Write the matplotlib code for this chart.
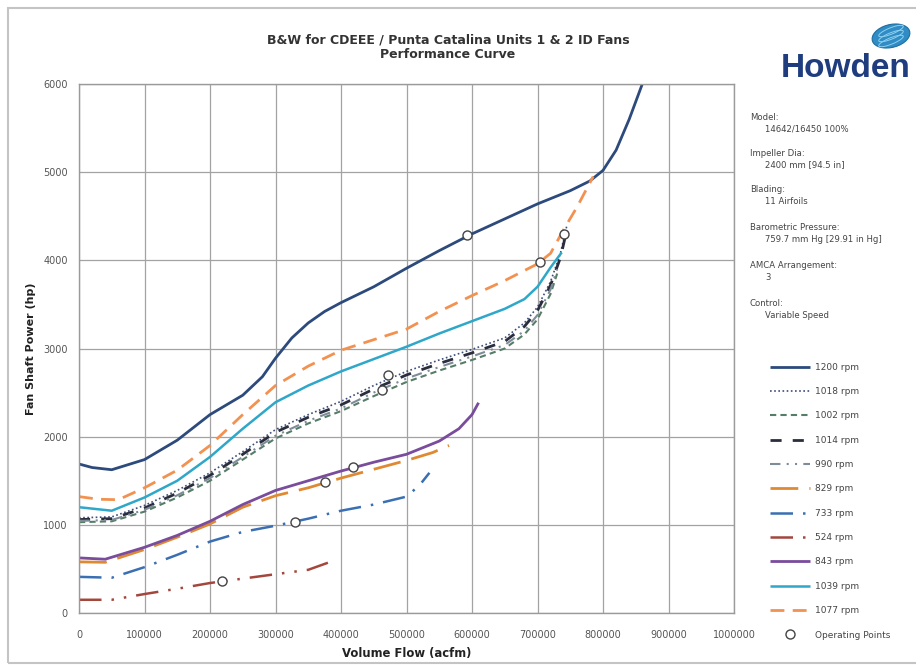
import matplotlib
matplotlib.use("Agg")
import matplotlib.pyplot as plt
from matplotlib.patches import Ellipse, Rectangle

# ---- performance data (flow in acfm, shaft power in hp) ----
flow_1200 = [0, 20000, 50000, 100000, 150000, 200000, 250000, 280000, 300000, 325000,
             350000, 375000, 400000, 425000, 450000, 500000, 550000, 600000, 650000,
             700000, 750000, 780000, 800000, 820000, 840000, 860000]
power_1200 = [1690, 1650, 1625, 1740, 1960, 2250, 2470, 2680, 2890, 3120,
              3290, 3420, 3520, 3610, 3700, 3910, 4110, 4300, 4470,
              4640, 4790, 4900, 5020, 5250, 5600, 6000]

flow_1018 = [0, 50000, 100000, 150000, 200000, 250000, 300000, 350000, 400000, 450000,
             500000, 550000, 600000, 650000, 680000, 700000, 720000, 735000, 745000]
power_1018 = [1080, 1090, 1220, 1390, 1590, 1830, 2080, 2250, 2400, 2580,
              2740, 2870, 2990, 3120, 3290, 3470, 3760, 4080, 4400]

flow_1002 = [0, 50000, 100000, 150000, 200000, 250000, 300000, 350000, 400000, 450000,
             500000, 550000, 600000, 650000, 680000, 700000, 720000, 730000]
power_1002 = [1030, 1040, 1150, 1310, 1500, 1740, 1980, 2150, 2290, 2460,
              2620, 2750, 2870, 3000, 3160, 3330, 3620, 3850]

flow_1014 = [0, 50000, 100000, 150000, 200000, 250000, 300000, 350000, 400000, 450000,
             500000, 550000, 600000, 650000, 680000, 700000, 720000, 735000, 745000]
power_1014 = [1060, 1070, 1190, 1360, 1560, 1800, 2050, 2220, 2360, 2540,
              2700, 2830, 2950, 3080, 3250, 3430, 3720, 4030, 4350]

flow_990 = [0, 50000, 100000, 150000, 200000, 250000, 300000, 350000, 400000, 450000,
            500000, 550000, 600000, 650000, 680000, 700000, 720000, 730000]
power_990 = [1045, 1055, 1170, 1335, 1530, 1770, 2010, 2180, 2320, 2500,
             2660, 2790, 2910, 3040, 3200, 3380, 3670, 3900]

flow_829 = [0, 40000, 100000, 150000, 200000, 250000, 300000, 350000, 400000, 450000,
            500000, 540000, 565000]
power_829 = [580, 575, 720, 860, 1010, 1200, 1330, 1420, 1530, 1630,
             1730, 1820, 1900]

flow_733 = [0, 50000, 100000, 150000, 200000, 250000, 300000, 350000, 400000, 450000,
            500000, 520000, 535000]
power_733 = [410, 400, 520, 660, 810, 920, 990, 1070, 1160, 1230,
             1320, 1450, 1590]

flow_524 = [0, 50000, 100000, 150000, 200000, 250000, 300000, 350000, 380000]
power_524 = [150, 150, 215, 275, 340, 390, 440, 490, 570]

flow_843 = [0, 40000, 100000, 150000, 200000, 250000, 300000, 350000, 400000, 450000,
            500000, 550000, 580000, 600000, 610000]
power_843 = [625, 610, 745, 880, 1040, 1230, 1390, 1500, 1610, 1710,
             1800, 1950, 2090, 2250, 2385]

flow_1039 = [0, 50000, 100000, 150000, 200000, 250000, 300000, 350000, 400000, 450000,
             500000, 550000, 600000, 650000, 680000, 700000, 720000, 737000]
power_1039 = [1200, 1160, 1310, 1500, 1770, 2090, 2390, 2580, 2740, 2880,
              3020, 3170, 3310, 3450, 3560, 3700, 3920, 4090]

flow_1077 = [0, 30000, 60000, 100000, 150000, 200000, 250000, 300000, 350000, 400000,
             450000, 500000, 550000, 600000, 650000, 700000, 720000, 740000, 760000, 785000]
power_1077 = [1320, 1290, 1285, 1420, 1620, 1900, 2250, 2580, 2800, 2980,
              3100, 3220, 3420, 3600, 3770, 3960, 4080, 4350, 4600, 4950]

op_flow = [218000, 330000, 375000, 418000, 462000, 472000, 592000, 704000, 740000]
op_power = [363, 1032, 1486, 1656, 2530, 2700, 4287, 3980, 4300]

x_ticks = [0, 100000, 200000, 300000, 400000, 500000, 600000, 700000, 800000, 900000, 1000000]
y_ticks = [0, 1000, 2000, 3000, 4000, 5000, 6000]

fig = plt.figure(figsize=(9.16, 6.71), dpi=100)
fig.patch.set_facecolor("white")

W, H = 916, 671
ax = fig.add_axes([79 / W, 1 - 613 / H, (734 - 79) / W, (613 - 84) / H])

series = [
    (flow_1200, power_1200, "1200 rpm", dict(color="#2d4a7c", lw=2.0, ls="-")),
    (flow_1018, power_1018, "1018 rpm", dict(color="#3c4d78", lw=1.2, ls=(0, (1, 1.5)))),
    (flow_1002, power_1002, "1002 rpm", dict(color="#557d68", lw=1.5, ls=(0, (3, 2)))),
    (flow_1014, power_1014, "1014 rpm", dict(color="#2a2d3d", lw=2.0, ls=(0, (4, 4)))),
    (flow_990, power_990, "990 rpm", dict(color="#7d8c98", lw=1.5, ls=(0, (5, 3, 1, 3, 1, 3)))),
    (flow_829, power_829, "829 rpm", dict(color="#df8a33", lw=2.0, ls=(0, (10, 4)))),
    (flow_733, power_733, "733 rpm", dict(color="#3b6fb3", lw=1.8, ls=(0, (9, 4, 1, 4)))),
    (flow_524, power_524, "524 rpm", dict(color="#a3473d", lw=1.8, ls=(0, (9, 4, 1, 4, 1, 4)))),
    (flow_843, power_843, "843 rpm", dict(color="#7a4c9c", lw=2.0, ls="-")),
    (flow_1039, power_1039, "1039 rpm", dict(color="#2ea7c9", lw=1.8, ls="-")),
    (flow_1077, power_1077, "1077 rpm", dict(color="#f39150", lw=2.0, ls=(0, (5, 3)))),
]

for fx, py, name, st in series:
    ax.plot(fx, py, label=name, color=st["color"], lw=st["lw"], linestyle=st["ls"],
            solid_capstyle="butt", dash_capstyle="butt", solid_joinstyle="round")

ax.plot(op_flow, op_power, ls="none", marker="o", ms=6.5, mfc="white",
        mec="#444444", mew=1.0, label="Operating Points", zorder=5)

ax.set_xlim(0, 1000000)
ax.set_ylim(0, 6000)
ax.set_xticks(x_ticks)
ax.set_yticks(y_ticks)
ax.set_xticklabels([str(v) for v in x_ticks])
ax.set_yticklabels([str(v) for v in y_ticks])
ax.tick_params(axis="both", labelsize=7, colors="#555555", length=0)
ax.tick_params(axis="x", pad=12)
ax.tick_params(axis="y", pad=8)
ax.grid(True, color="#a3a3a3", lw=0.9)
ax.set_axisbelow(True)
for side, sp in ax.spines.items():
    sp.set_color("#9a9a9a")
    sp.set_linewidth(1.0)

ax.set_xlabel("Volume Flow (acfm)", fontsize=8.4, fontweight="bold", color="#222222", labelpad=5)
ax.set_ylabel("Fan Shaft Power (hp)", fontsize=8, fontweight="bold", color="#222222", labelpad=5)

leg = ax.legend(loc="upper left", bbox_to_anchor=(1.05, 0.48), frameon=False,
                fontsize=6.5, handlelength=4.4, labelspacing=1.7, handletextpad=0.5,
                borderaxespad=0)
for t in leg.get_texts():
    t.set_color("#444444")

fig.text(448 / W, 1 - 40 / H, "B&W for CDEEE / Punta Catalina Units 1 & 2 ID Fans",
         ha="center", va="center", fontsize=9, fontweight="bold", color="#333333")
fig.text(448 / W, 1 - 55 / H, "Performance Curve",
         ha="center", va="center", fontsize=9, fontweight="bold", color="#333333")

info = [
    ("Model:", "14642/16450 100%", 117),
    ("Impeller Dia:", "2400 mm [94.5 in]", 153),
    ("Blading:", "11 Airfoils", 189),
    ("Barometric Pressure:", "759.7 mm Hg [29.91 in Hg]", 228),
    ("AMCA Arrangement:", "3", 266),
    ("Control:", "Variable Speed", 303),
]
for head, val, yy in info:
    fig.text(750 / W, 1 - yy / H, head, ha="left", va="center", fontsize=6.1, color="#444444")
    fig.text(765 / W, 1 - (yy + 12) / H, val, ha="left", va="center", fontsize=6.1,
             color="#444444")

# company logo
fig.text(846 / W, 1 - 77 / H, "Howden", ha="center", va="baseline", fontsize=24,
         fontweight="bold", color="#1f3d7e", family="Liberation Sans")
globe = Ellipse((891 / W, 1 - 36 / H), 40 / W, 22 / H, angle=30,
                transform=fig.transFigure, facecolor="#2f8cc4", edgecolor="#1e6ea0", lw=0.8)
fig.add_artist(globe)
for dy in (-5, 0, 5):
    fig.add_artist(Ellipse((891 / W, 1 - (36 + dy) / H), 28 / W, 6 / H, angle=30,
                           transform=fig.transFigure, facecolor="none",
                           edgecolor="#8fd0ef", lw=0.7))

# outer frame
fig.add_artist(Rectangle((8 / W, 8 / H), (W + 10) / W, (H - 16) / H,
                         transform=fig.transFigure, fill=False,
                         edgecolor="#c4c4c4", lw=1.5))

fig.savefig("out.png", dpi=100, facecolor="white")
